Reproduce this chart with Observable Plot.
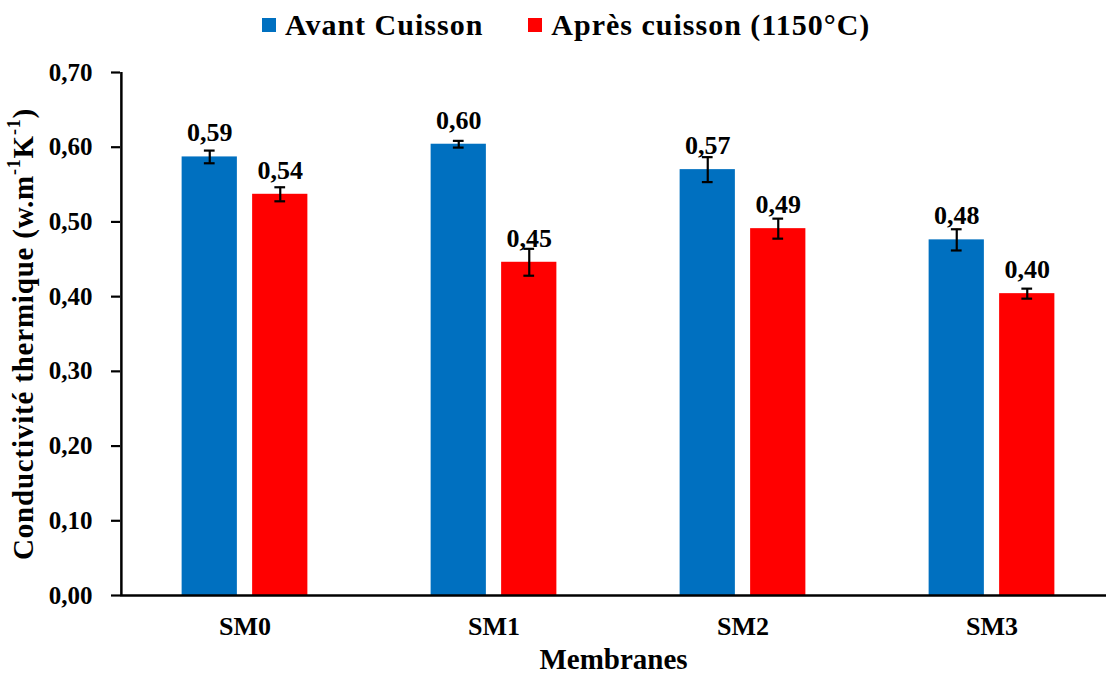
<!DOCTYPE html>
<html>
<head>
<meta charset="utf-8">
<script src="https://cdn.jsdelivr.net/npm/d3@7"></script>
<script src="https://cdn.jsdelivr.net/npm/@observablehq/plot@0.6"></script>
<style>
  html, body { margin: 0; padding: 0; background: #fff; }
  body { width: 1106px; height: 675px; overflow: hidden; font-family: "Liberation Serif", "Times New Roman", Tinos, "DejaVu Serif", serif; }
  #legend { height: 50px; display: flex; align-items: center; justify-content: flex-start; padding-left: 262px; box-sizing: border-box; font-weight: bold; font-size: 30px; letter-spacing: 1px; color: #000; }
  #legend .item { display: flex; align-items: center; }
  #legend .item + .item { margin-left: 45px; }
  #legend .sw { width: 14px; height: 14px; margin-right: 9px; }
  svg { display: block; }
</style>
</head>
<body>
<div id="legend"></div>
<div id="chart"></div>
<script>
const categories = ["SM0", "SM1", "SM2", "SM3"];
const seriesNames = ["Avant Cuisson", "Après cuisson (1150°C)"];
const seriesColors = ["#0070C0", "#FF0000"];
const avantValues = [0.587, 0.604, 0.570, 0.476];
const avantErrors = [0.0085, 0.0045, 0.0167, 0.0142];
const apresValues = [0.537, 0.446, 0.491, 0.404];
const apresErrors = [0.0094, 0.0180, 0.0134, 0.0067];
const yTicks = [0, 0.1, 0.2, 0.3, 0.4, 0.5, 0.6, 0.7];
const xLabel = "Membranes";

const FF = '"Liberation Serif", "Times New Roman", Tinos, "DejaVu Serif", serif';
const fmt = d => d.toFixed(2).replace(".", ",");

// legend
const legend = d3.select("#legend");
seriesNames.forEach((name, i) => {
  const it = legend.append("div").attr("class", "item");
  it.append("div").attr("class", "sw").style("background", seriesColors[i]);
  it.append("span").text(name);
});

const rows = [];
categories.forEach((c, i) => {
  rows.push({cat: c, series: seriesNames[0], value: avantValues[i], err: avantErrors[i]});
  rows.push({cat: c, series: seriesNames[1], value: apresValues[i], err: apresErrors[i]});
});
const avantRows = rows.filter(r => r.series === seriesNames[0]);
const apresRows = rows.filter(r => r.series === seriesNames[1]);

const W = 1106, H = 625;
const xRange = [119, 1116];
const bw = (xRange[1] - xRange[0]) / categories.length;
const barW = 55.5;
const off = 35.25;
const barInset = (bw - barW) / 2;
const capInset = (bw - 11) / 2;
const font = {fontFamily: FF, fontWeight: "bold"};

function seriesMarks(data, color, dx) {
  return [
    Plot.barY(data, {x: "cat", y: "value", fill: color, insetLeft: barInset + dx, insetRight: barInset - dx}),
    Plot.ruleX(data, {x: "cat", y1: d => d.value - d.err, y2: d => d.value + d.err, stroke: "#000", strokeWidth: 2.2, dx}),
    Plot.tickY(data, {x: "cat", y: d => d.value - d.err, stroke: "#000", strokeWidth: 2.2, insetLeft: capInset + dx, insetRight: capInset - dx}),
    Plot.tickY(data, {x: "cat", y: d => d.value + d.err, stroke: "#000", strokeWidth: 2.2, insetLeft: capInset + dx, insetRight: capInset - dx}),
    Plot.text(data, {x: "cat", y: "value", text: d => fmt(d.value), dx, dy: -24, fontSize: 26, fill: "#000", ...font})
  ];
}

const chart = Plot.plot({
  width: W,
  height: H,
  marginLeft: 120,
  marginRight: 0,
  marginTop: 22,
  marginBottom: 80,
  style: {fontFamily: FF, background: "#fff", overflow: "visible"},
  x: {domain: categories, range: xRange, padding: 0},
  y: {domain: [0, 0.7]},
  marks: [
    ...seriesMarks(avantRows, seriesColors[0], -off),
    ...seriesMarks(apresRows, seriesColors[1], off),
    Plot.ruleX([categories[0]], {x: d => d, dx: -bw / 2 + 1, y1: 0, y2: 0.7, stroke: "#000", strokeWidth: 2.5}),
    Plot.ruleY([0], {stroke: "#000", strokeWidth: 2.5}),
    Plot.axisY({ticks: yTicks, tickFormat: fmt, tickSize: 9, tickPadding: 19, fontSize: 25, ...font, label: null, stroke: "#000", strokeWidth: 2.2, color: "#000"}),
    Plot.axisX({tickSize: 0, tickPadding: 21, fontSize: 26, ...font, label: null, color: "#000"}),
    Plot.text([xLabel], {frameAnchor: "bottom", dy: 73, fontSize: 29, fill: "#000", ...font, letterSpacing: "1.5px"})
  ]
});
document.getElementById("chart").appendChild(chart);

// y-axis title with superscripts
const svg = d3.select(chart);
const t = svg.append("text")
  .attr("transform", "translate(26,284) rotate(-90)")
  .attr("text-anchor", "middle")
  .attr("dominant-baseline", "middle")
  .style("font-family", FF)
  .style("letter-spacing", "0.8px")
  .attr("font-weight", "bold")
  .attr("font-size", 29)
  .attr("fill", "#000");
t.append("tspan").text("Conductivité thermique (w.m");
t.append("tspan").attr("baseline-shift", "super").attr("font-size", 18).text("-1");
t.append("tspan").text("K");
t.append("tspan").attr("baseline-shift", "super").attr("font-size", 18).text("-1");
t.append("tspan").text(")");
</script>
</body>
</html>
